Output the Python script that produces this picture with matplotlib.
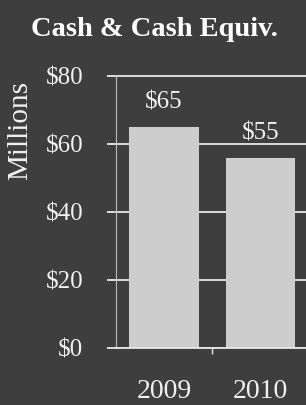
import matplotlib
matplotlib.use("Agg")
import matplotlib.pyplot as plt

years = ["2009", "2010"]
values = [65.0, 55.8]
value_labels = ["$65", "$55"]
y_ticks = [0, 20, 40, 60, 80]
y_tick_labels = ["$0", "$20", "$40", "$60", "$80"]
title = "Cash & Cash Equiv."
y_label = "Millions"

BG = "#3e3e3e"
BAR = "#cdcdcd"
FG = "#f0f0f0"
FONT = "Liberation Serif"

fig = plt.figure(figsize=(3.06, 4.05), dpi=100, facecolor=BG)
W, H = 306, 405
ax = fig.add_axes([116/W, 1 - 348/H, 1 - 116/W, (348 - 75)/H])
ax.set_facecolor(BG)

x = list(range(len(years)))
ax.bar(x, values, width=0.72, color=BAR, zorder=3)
ax.set_xlim(-0.5, 1.474)
ax.set_ylim(0, 80.3)

ax.set_yticks(y_ticks)
ax.set_yticklabels(y_tick_labels, fontfamily=FONT, fontsize=18, color=FG)
ax.yaxis.grid(True, color="#e8e8e8", linewidth=1.3, zorder=1)
ax.tick_params(axis="y", direction="out", length=6.5, width=1.3, color="#e8e8e8", pad=17)

ax.set_xticks(x)
ax.set_xticklabels(years, fontfamily=FONT, fontsize=20, color=FG)
ax.tick_params(axis="x", length=0, pad=22)
ax.set_xticks([0.5], minor=True)
ax.tick_params(axis="x", which="minor", direction="out", length=4, width=1, color="#e8e8e8")

for s in ["top", "right"]:
    ax.spines[s].set_visible(False)
ax.spines["left"].set_color("#bbbbbb")
ax.spines["left"].set_linewidth(0.8)
ax.spines["left"].set_linestyle((0, (2, 1)))
ax.spines["bottom"].set_color("#e8e8e8")
ax.spines["bottom"].set_linewidth(1.3)
ax.spines["bottom"].set_zorder(4)

for xi, v, lab in zip(x, values, value_labels):
    ax.annotate(lab, (xi, v), xytext=(0, 10), textcoords="offset points",
                ha="center", va="bottom", fontfamily=FONT, fontsize=18, color=FG)

fig.text(20/W, 1 - 131/H, y_label, rotation=90, ha="center", va="center",
         fontfamily=FONT, fontsize=21, color=FG)

fig.text(154/W, 1 - 30/H, title, ha="center", va="center",
         fontfamily=FONT, fontweight="bold", fontsize=20.5, color="white")

fig.savefig("out.png", dpi=100, facecolor=BG)
